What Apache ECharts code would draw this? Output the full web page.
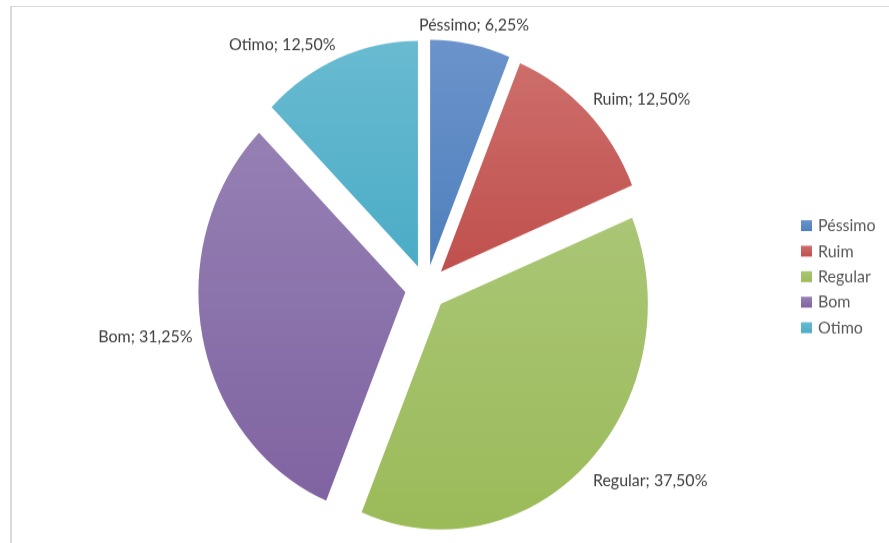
<!DOCTYPE html>
<html>
<head>
<meta charset="utf-8">
<script src="https://cdn.jsdelivr.net/npm/echarts@6/dist/echarts.min.js"></script>
<style>
  html, body { margin: 0; padding: 0; background: #fff; overflow: hidden; }
  #frame {
    position: absolute; left: 10px; top: 6px; width: 900px; height: 560px;
    border-left: 2px solid #d9d9d9; border-top: 1.5px solid #d9d9d9;
  }
  #chart {
    position: absolute; left: 0; top: 0; width: 889px; height: 498px;
    transform: scaleY(1.09); transform-origin: 0 0;
  }
</style>
</head>
<body>
<div id="frame"></div>
<div id="chart"></div>
<script>
// Avaliação: share of answers per rating
const categories = ['Péssimo', 'Ruim', 'Regular', 'Bom', 'Otimo'];
const shares = [6.25, 12.50, 37.50, 31.25, 12.50];
const baseColors = ['#4F81BD', '#C0504D', '#9BBB59', '#8064A2', '#4BACC6'];
const topColors  = ['#6C93CB', '#CD6E6B', '#AAC676', '#9580B3', '#69BBD1'];

const FONT = 'Lato, "Open Sans", sans-serif';

// small nudges so each label sits just off its slice edge
const labelNudge = [
  { align: 'center', dx: -3, dy: -10 },
  { dx: -5, dy: -6 },
  { dx: -5, dy: 10 },
  { dx: 3, dy: -1 },
  { dx: 5, dy: -5.5 }
];

const data = categories.map((name, i) => ({
  name,
  value: shares[i],
  selected: true,
  itemStyle: {
    color: {
      type: 'linear', x: 0, y: 0, x2: 0, y2: 1,
      colorStops: [
        { offset: 0, color: topColors[i] },
        { offset: 1, color: baseColors[i] }
      ]
    }
  }
}));

const chart = echarts.init(document.getElementById('chart'), null, { renderer: 'canvas' });
chart.setOption({
  animation: false,
  backgroundColor: 'transparent',
  legend: {
    orient: 'vertical',
    left: 796,
    top: 194,
    itemWidth: 11,
    itemHeight: 10,
    itemGap: 7.4,
    icon: 'rect',
    selectedMode: false,
    textStyle: { fontFamily: FONT, fontSize: 16, color: '#595959', padding: [0, 0, 0, 1] },
    data: categories
  },
  series: [{
    type: 'pie',
    center: [426, 264],
    radius: 207,
    startAngle: 90,
    clockwise: true,
    selectedMode: 'multiple',
    selectedOffset: 21,
    avoidLabelOverlap: false,
    emphasis: { disabled: true },
    label: {
      show: true,
      position: 'outside',
      fontFamily: FONT,
      fontSize: 16,
      color: '#404040',
      formatter: p => p.name + '; ' + p.value.toFixed(2).replace('.', ',') + '%'
    },
    labelLine: { show: false, length: 8, length2: 0 },
    labelLayout: p => labelNudge[p.dataIndex],
    data
  }]
});
</script>
</body>
</html>
